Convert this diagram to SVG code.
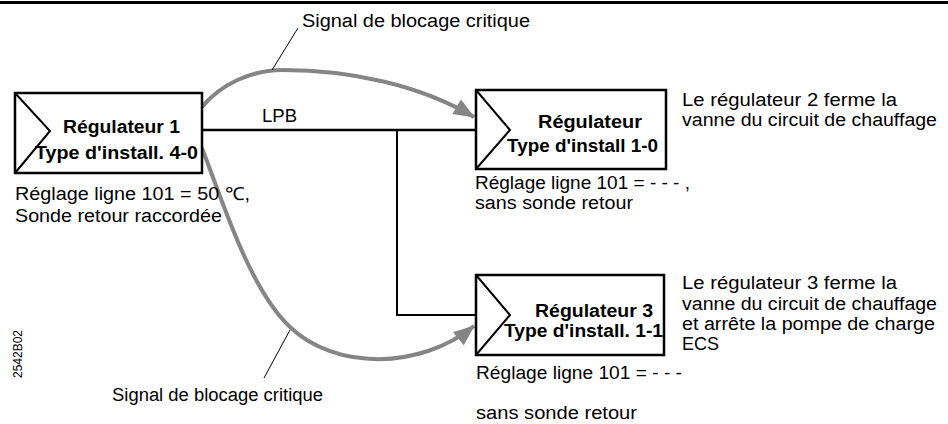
<svg xmlns="http://www.w3.org/2000/svg" width="948" height="424" viewBox="0 0 948 424">
<style>
text{font-family:"Liberation Sans",Arial,sans-serif;font-size:18px;fill:#000}
.b{font-weight:bold}
.box{fill:#fff;stroke:#000;stroke-width:2.5}
.tri{fill:none;stroke:#000;stroke-width:2}
.bus{fill:none;stroke:#000;stroke-width:2.5}
.sig{fill:none;stroke:#858585;stroke-width:4}
.lead{fill:none;stroke:#000;stroke-width:1}
</style>
<defs>
<marker id="ah" viewBox="0 0 20 16" refX="19" refY="8" markerWidth="22" markerHeight="17" markerUnits="userSpaceOnUse" orient="auto">
<path d="M0,0 L20,8 L0,16 Z" fill="#858585"/>
</marker>
</defs>
<rect width="948" height="424" fill="#fff"/>
<line x1="0" y1="2.5" x2="948" y2="2.5" stroke="#000" stroke-width="3"/>

<g id="connectors">
<polyline class="bus" points="202,130 476,130"/>
<polyline class="bus" points="397,130 397,315 476,315" style="stroke-width:2"/>
<path class="sig" d="M202,107 C220,85 250,70 283,70 C350,70 420,85 474,117" marker-end="url(#ah)"/>
<path class="sig" d="M202,148 C222,200 250,290 290,327 C335,370 420,370 474,326" marker-end="url(#ah)"/>
<line class="lead" x1="298" y1="28" x2="272" y2="70"/>
<line class="lead" x1="290" y1="330" x2="264" y2="378"/>
<text x="262" y="122" textLength="35" lengthAdjust="spacingAndGlyphs">LPB</text>
<text x="302" y="27" textLength="228" lengthAdjust="spacingAndGlyphs">Signal de blocage critique</text>
<text x="112" y="401" textLength="211" lengthAdjust="spacingAndGlyphs">Signal de blocage critique</text>
</g>

<g id="regulateur1">
<rect class="box" x="15" y="93" width="187" height="80"/>
<polyline class="tri" points="15,93 50,131 15,173"/>
<text class="b" x="63" y="133" textLength="117" lengthAdjust="spacingAndGlyphs">Régulateur 1</text>
<text class="b" x="35" y="159" textLength="163" lengthAdjust="spacingAndGlyphs">Type d'install. 4-0</text>
<text x="15" y="200" textLength="235" lengthAdjust="spacingAndGlyphs">Réglage ligne 101 = 50 ℃,</text>
<text x="15" y="222" textLength="207" lengthAdjust="spacingAndGlyphs">Sonde retour raccordée</text>
</g>

<g id="regulateur2">
<rect class="box" x="476" y="90" width="190" height="79"/>
<polyline class="tri" points="476,90 510,130 476,169"/>
<text class="b" x="538" y="128" textLength="104" lengthAdjust="spacingAndGlyphs">Régulateur</text>
<text class="b" x="507" y="152" textLength="151" lengthAdjust="spacingAndGlyphs">Type d'install 1-0</text>
<text x="475" y="189" textLength="215" lengthAdjust="spacingAndGlyphs">Réglage ligne 101 = - - - ,</text>
<text x="475" y="209" textLength="158" lengthAdjust="spacingAndGlyphs">sans sonde retour</text>
<text x="682" y="106" textLength="215" lengthAdjust="spacingAndGlyphs">Le régulateur  2 ferme la</text>
<text x="682" y="126" textLength="255" lengthAdjust="spacingAndGlyphs">vanne du circuit de chauffage</text>
</g>

<g id="regulateur3">
<rect class="box" x="476" y="275" width="188" height="80"/>
<polyline class="tri" points="476,275 510,315 476,355"/>
<text class="b" x="535" y="317" textLength="118" lengthAdjust="spacingAndGlyphs">Régulateur 3</text>
<text class="b" x="504" y="337" textLength="159" lengthAdjust="spacingAndGlyphs">Type d'install. 1-1</text>
<text x="476" y="379" textLength="206" lengthAdjust="spacingAndGlyphs">Réglage ligne 101 = - - -</text>
<text x="476" y="419" textLength="161" lengthAdjust="spacingAndGlyphs">sans sonde retour</text>
<text x="682" y="289" textLength="215" lengthAdjust="spacingAndGlyphs">Le régulateur 3 ferme la</text>
<text x="682" y="310" textLength="255" lengthAdjust="spacingAndGlyphs">vanne du circuit de chauffage</text>
<text x="682" y="330" textLength="253" lengthAdjust="spacingAndGlyphs">et arrête la pompe de charge</text>
<text x="682" y="350">ECS</text>
</g>

<text x="0" y="0" transform="translate(22,354) rotate(-90)" text-anchor="middle" style="font-size:12px">2542B02</text>
</svg>
